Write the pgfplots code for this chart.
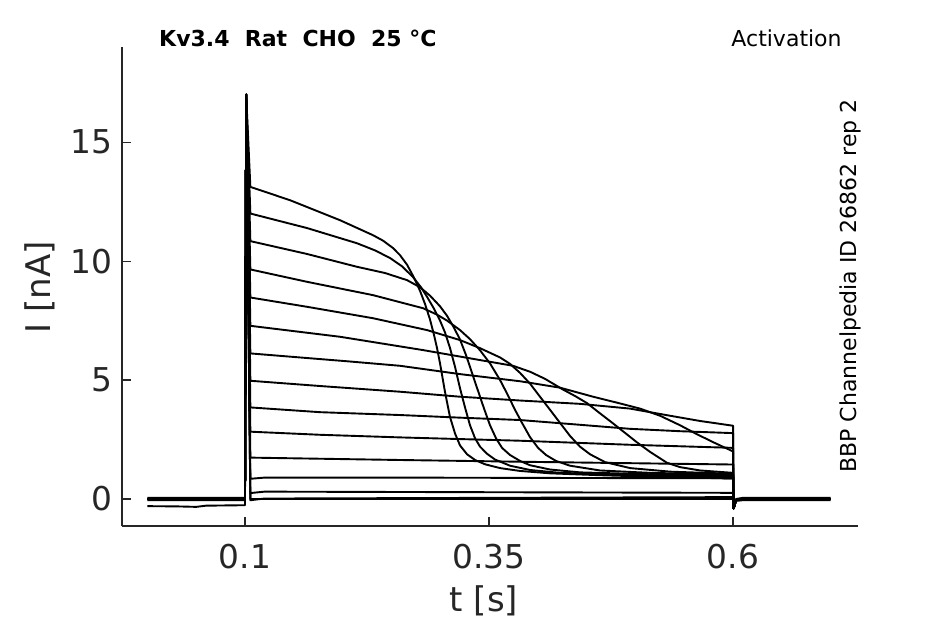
\documentclass[border=0pt]{standalone}
\usepackage{fontspec}
\setmainfont{DejaVu Sans}
\usepackage{pgfplots}
\pgfplotsset{compat=1.18}
\definecolor{txt}{HTML}{262626}
\begin{document}
\begin{tikzpicture}
\useasboundingbox (0,0) rectangle (472.5pt,312pt);
\begin{axis}[
  at={(61pt,49pt)}, anchor=south west,
  width=368pt, height=239.5pt, scale only axis,
  xmin=-0.026, xmax=0.728, ymin=-1.134, ymax=19.0,
  axis x line*=bottom, axis y line*=left,
  axis line style={-, black!85, line width=0.6pt},
  xtick={0.1,0.35,0.6}, xticklabels={0.1,0.35,0.6},
  ytick={0,5,10,15}, yticklabels={0,5,10,15},
  tick style={black!85, line width=0.6pt},
  major tick length=4.5pt,
  tick align=inside,
  ticklabel style={font=\fontsize{16.4}{19}\selectfont, text=txt},
  xticklabel style={yshift=-5.5pt},
  yticklabel style={xshift=-1.5pt},
  no markers,
  every axis plot post/.append style={black, solid, line width=0.95pt, line join=round},
]
% trace 1
\addplot coordinates {(0,0) (0.1,0) (0.1012,17.0) (0.1055,13.12) (0.1461,12.56) (0.1973,11.72) (0.2311,11.09) (0.2414,10.86) (0.2516,10.55) (0.2588,10.25) (0.2660,9.85) (0.2732,9.3) (0.2793,8.75) (0.2844,8.2) (0.2895,7.55) (0.2936,6.9) (0.2967,6.35) (0.2998,5.7) (0.3049,4.5) (0.3100,3.45) (0.3152,2.75) (0.3203,2.25) (0.3275,1.88) (0.3357,1.64) (0.3459,1.46) (0.3613,1.3) (0.3818,1.18) (0.4125,1.08) (0.4637,1.0) (0.5252,0.93) (0.6,0.86) (0.6005,-0.4) (0.603,-0.05) (0.61,0) (0.7,0)};
% trace 2
\addplot coordinates {(0,0) (0.1,0) (0.1012,17.0) (0.1055,12.0) (0.1635,11.39) (0.2148,10.75) (0.2332,10.45) (0.2486,10.13) (0.2609,9.78) (0.2721,9.33) (0.2803,8.9) (0.2865,8.5) (0.2936,8.0) (0.2998,7.5) (0.3049,7.0) (0.3100,6.35) (0.3152,5.55) (0.3203,4.65) (0.3254,3.85) (0.3305,3.1) (0.3357,2.55) (0.3408,2.2) (0.3480,1.9) (0.3561,1.66) (0.3715,1.4) (0.3920,1.22) (0.4227,1.1) (0.4842,1.02) (0.6,0.92) (0.6005,-0.4) (0.603,-0.05) (0.61,0) (0.7,0)};
% trace 3
\addplot coordinates {(0,0) (0.1,0) (0.1012,17.0) (0.1055,10.84) (0.1635,10.3) (0.2148,9.76) (0.2434,9.5) (0.2660,9.2) (0.2793,8.9) (0.2895,8.55) (0.2998,8.1) (0.3070,7.7) (0.3141,7.2) (0.3203,6.7) (0.3264,6.05) (0.3326,5.3) (0.3387,4.55) (0.3449,3.8) (0.3510,3.1) (0.3572,2.55) (0.3633,2.15) (0.3715,1.85) (0.3818,1.6) (0.3920,1.42) (0.4125,1.24) (0.4432,1.12) (0.5047,1.05) (0.6,0.97) (0.6005,-0.4) (0.603,-0.05) (0.61,0) (0.7,0)};
% trace 4
\addplot coordinates {(0,0) (0.1,0) (0.1012,17.0) (0.1055,9.65) (0.1635,9.13) (0.2311,8.57) (0.2824,8.02) (0.2967,7.75) (0.3070,7.5) (0.3203,7.1) (0.3305,6.72) (0.3408,6.25) (0.3510,5.7) (0.3613,5.0) (0.3695,4.35) (0.3766,3.75) (0.3838,3.2) (0.3920,2.6) (0.4002,2.15) (0.4084,1.85) (0.4186,1.6) (0.4330,1.4) (0.4637,1.2) (0.5150,1.1) (0.6,1.02) (0.6005,-0.4) (0.603,-0.05) (0.61,0) (0.7,0)};
% trace 5
\addplot coordinates {(0,0) (0.1,0) (0.1012,17.0) (0.1055,8.47) (0.1635,8.08) (0.2311,7.6) (0.2865,7.1) (0.3203,6.68) (0.3408,6.34) (0.3613,5.95) (0.3715,5.68) (0.3818,5.3) (0.3920,4.85) (0.4022,4.3) (0.4125,3.75) (0.4227,3.2) (0.4330,2.65) (0.4432,2.2) (0.4535,1.88) (0.4689,1.55) (0.4945,1.3) (0.5355,1.15) (0.6,1.06) (0.6005,-0.4) (0.603,-0.05) (0.61,0) (0.7,0)};
% trace 6
\addplot coordinates {(0,0) (0.1,0) (0.1012,17.0) (0.1055,7.28) (0.1973,6.82) (0.2824,6.26) (0.3408,5.84) (0.3746,5.6) (0.3920,5.35) (0.4074,5.05) (0.4258,4.6) (0.4381,4.33) (0.4504,4.03) (0.4637,3.6) (0.4770,3.18) (0.4893,2.78) (0.5016,2.38) (0.5150,1.98) (0.5324,1.52) (0.5457,1.34) (0.5662,1.2) (0.6,1.1) (0.6005,-0.4) (0.603,-0.05) (0.61,0) (0.7,0)};
% trace 7
\addplot coordinates {(0,0) (0.1,0) (0.1012,17.0) (0.1055,6.12) (0.1564,5.95) (0.2076,5.78) (0.2588,5.6) (0.3203,5.25) (0.3818,4.95) (0.4227,4.68) (0.4566,4.3) (0.4811,4.05) (0.5047,3.8) (0.5252,3.5) (0.5457,3.1) (0.5631,2.72) (0.5816,2.35) (0.6,2.0) (0.6005,-0.4) (0.603,-0.05) (0.61,0) (0.7,0)};
% trace 8
\addplot coordinates {(0,0) (0.1,0) (0.1012,17.0) (0.1055,4.97) (0.1768,4.75) (0.2588,4.51) (0.3203,4.3) (0.3818,4.14) (0.4432,4.0) (0.4945,3.8) (0.5355,3.5) (0.5662,3.28) (0.6,3.08) (0.6005,-0.4) (0.603,-0.05) (0.61,0) (0.7,0)};
% trace 9
\addplot coordinates {(0,0) (0.1,0) (0.1012,17.0) (0.1055,3.85) (0.1768,3.65) (0.2588,3.53) (0.3203,3.42) (0.3818,3.32) (0.4432,3.12) (0.4945,2.95) (0.5457,2.85) (0.6,2.77) (0.6005,-0.4) (0.603,-0.05) (0.61,0) (0.7,0)};
% trace 10
\addplot coordinates {(0,0) (0.1,0) (0.1012,17.0) (0.1055,2.83) (0.1768,2.7) (0.2588,2.59) (0.3818,2.45) (0.4945,2.28) (0.6,2.15) (0.6005,-0.4) (0.603,-0.05) (0.61,0) (0.7,0)};
% trace 11
\addplot coordinates {(0,0) (0.1,0) (0.1012,17.0) (0.1055,1.74) (0.2588,1.64) (0.4125,1.55) (0.6,1.45) (0.6005,-0.4) (0.603,-0.05) (0.61,0) (0.7,0)};
% trace 12
\addplot coordinates {(0,-0.05) (0.1,-0.05) (0.1012,17.0) (0.1055,0.85) (0.12,0.9) (0.2588,0.9) (0.6,0.87) (0.6005,-0.4) (0.603,-0.08) (0.61,-0.05) (0.7,-0.05)};
% trace 13
\addplot coordinates {(0,0.05) (0.1,0.05) (0.1012,17.0) (0.1055,0.25) (0.12,0.31) (0.6,0.26) (0.6005,-0.4) (0.603,0.0) (0.61,0.05) (0.7,0.05)};
% trace 14
\addplot coordinates {(0,-0.3) (0.03,-0.31) (0.05,-0.33) (0.06,-0.28) (0.1,-0.26) (0.1012,17.0) (0.1055,-0.05) (0.12,0.02) (0.6,0.08) (0.6005,-0.4) (0.603,-0.05) (0.61,0) (0.7,0)};
% trace 15
\addplot coordinates {(0,0) (0.1,0) (0.1012,17.0) (0.1055,0) (0.6,0) (0.6005,-0.4) (0.603,-0.05) (0.61,0) (0.7,0)};
\end{axis}
\node[anchor=base west, inner sep=0pt, font=\fontsize{11}{13}\selectfont\bfseries] at (79.4pt,288.7pt) {Kv3.4~~Rat~~CHO~~25~°C};
\node[anchor=base east, inner sep=0pt, font=\fontsize{11}{13}\selectfont] at (421pt,288.7pt) {Activation};
\node[rotate=90, anchor=base, inner sep=0pt, font=\fontsize{11}{13}\selectfont] at (428pt,169pt) {BBP Channelpedia ID 26862 rep 2};
\node[rotate=90, anchor=base, inner sep=0pt, font=\fontsize{17}{20}\selectfont, text=txt] at (25pt,168.5pt) {I [nA]};
\node[anchor=base, inner sep=0pt, font=\fontsize{17}{20}\selectfont, text=txt] at (242pt,6pt) {t [s]};
\end{tikzpicture}
\end{document}
